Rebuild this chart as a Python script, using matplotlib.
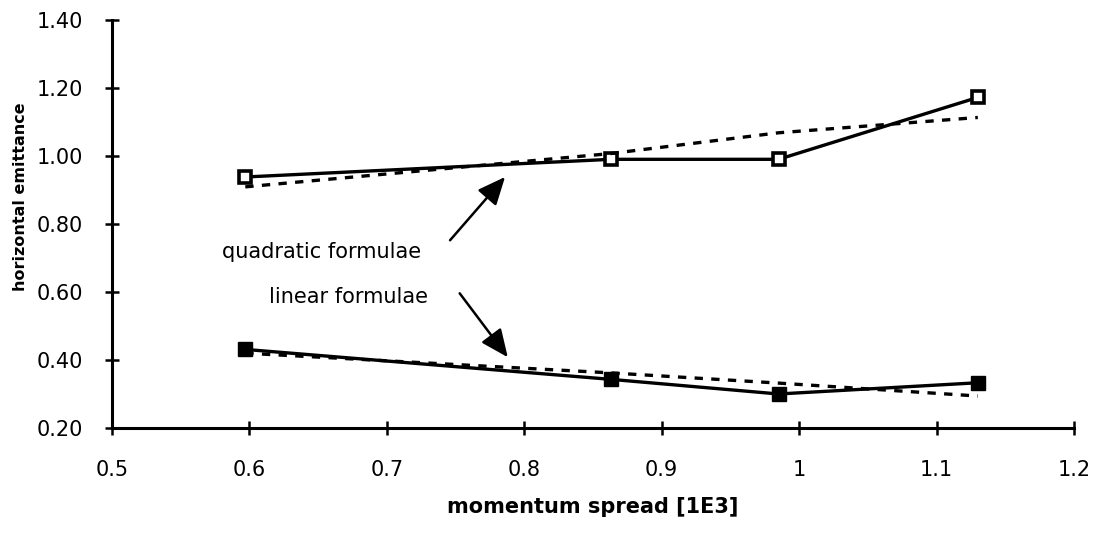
import matplotlib
matplotlib.use("Agg")
import matplotlib.pyplot as plt

# momentum spread [1E3]
spread = [0.597, 0.863, 0.985, 1.130]

# measured horizontal emittance
quad_meas = [0.938, 0.990, 0.990, 1.172]
lin_meas = [0.431, 0.343, 0.300, 0.333]

# formula values (dashed)
quad_formula = [0.909, 1.007, 1.068, 1.113]
lin_formula = [0.420, 0.362, 0.332, 0.294]

xticks = [0.5, 0.6, 0.7, 0.8, 0.9, 1.0, 1.1, 1.2]
xtick_labels = ["0.5", "0.6", "0.7", "0.8", "0.9", "1", "1.1", "1.2"]
yticks = [0.20, 0.40, 0.60, 0.80, 1.00, 1.20, 1.40]

fig = plt.figure(figsize=(11.01, 5.37), dpi=100)
ax = fig.add_axes([0.1017, 0.203, 0.8738, 0.760])

ax.plot(spread, quad_meas, color="black", lw=2.4, marker="s", ms=9,
        mfc="white", mec="black", mew=2.6)
ax.plot(spread, quad_formula, color="black", lw=2.4, ls=(0, (2.5, 2.5)))
ax.plot(spread, lin_meas, color="black", lw=2.4, marker="s", ms=10,
        mfc="black", mec="black")
ax.plot(spread, lin_formula, color="black", lw=2.4, ls=(0, (2.5, 2.5)))

arrow = dict(arrowstyle="-|>,head_length=1.7,head_width=0.75", color="black",
             lw=1.8, shrinkA=0, shrinkB=0)
ax.annotate("", xy=(0.786, 0.938), xytext=(0.746, 0.752), arrowprops=arrow)
ax.annotate("", xy=(0.788, 0.408), xytext=(0.753, 0.596), arrowprops=arrow)

ax.text(0.580, 0.718, "quadratic formulae", fontsize=15, va="center",
        ha="left")
ax.text(0.614, 0.585, "linear formulae", fontsize=15, va="center",
        ha="left")

ax.set_xlim(0.5, 1.2)
ax.set_ylim(0.2, 1.4)
ax.set_xticks(xticks)
ax.set_xticklabels(xtick_labels, fontsize=15)
ax.set_yticks(yticks)
ax.set_yticklabels([f"{v:.2f}" for v in yticks], fontsize=15)
ax.tick_params(axis="x", direction="inout", length=10, width=1.8, pad=18)
ax.tick_params(axis="y", direction="inout", length=10, width=1.8, pad=16)

for side in ["top", "right"]:
    ax.spines[side].set_visible(False)
for side in ["left", "bottom"]:
    ax.spines[side].set_linewidth(2.2)

ax.set_xlabel("momentum spread [1E3]", fontsize=15, fontweight="bold",
              labelpad=12)
fig.text(0.019, 0.633, "horizontal emittance", rotation=90, fontsize=11.5,
         fontweight="bold", ha="center", va="center")

fig.savefig("out.png", dpi=100)
